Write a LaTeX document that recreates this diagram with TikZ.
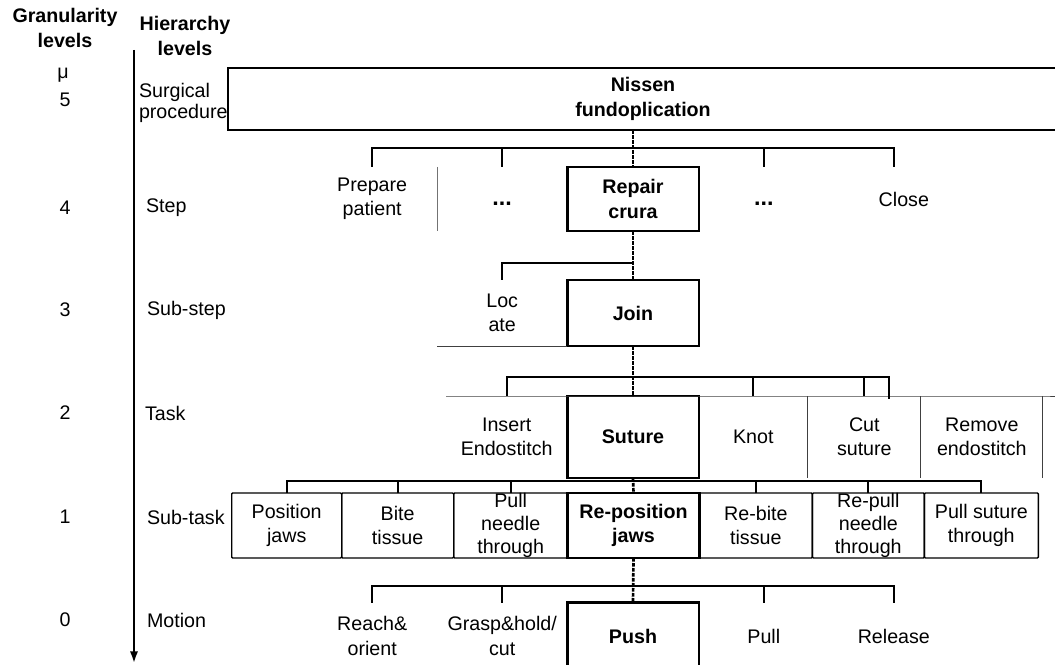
\documentclass[tikz,border=0pt]{standalone}
\usepackage{fontspec}
\setmainfont{Liberation Sans}
\usetikzlibrary{arrows.meta,positioning}
\tikzset{
  lbl/.style={font=\fontsize{11.8}{14.6}\selectfont, align=center, inner sep=0pt, outer sep=0pt},
  boldlbl/.style={lbl, font=\fontsize{11.8}{14.6}\selectfont\bfseries},
  keybox/.style={boldlbl, draw, line width=1.6pt, minimum width=79pt},
  cell/.style={lbl, minimum width=78pt},
  subbox/.style={lbl, draw, line width=0.8pt, rounded corners=0.6pt, minimum height=39pt},
  tight/.style={font=\fontsize{11.8}{13.6}\selectfont},
  bracket/.style={line width=1.2pt},
  link/.style={line width=1.6pt, dash pattern=on 2.2pt off 0.8pt},
  rule/.style={line width=0.5pt, black!75},
  lvl/.style={lbl, anchor=west, align=left}
}
\newcommand{\moredots}{\raisebox{-4pt}[0pt][0pt]{\fontsize{14}{14}\selectfont\bfseries ...}}
\begin{document}
\begin{tikzpicture}[x=0.6pt, y=-0.6pt]
\useasboundingbox (0,0) rectangle (1055,665);

% left columns
\node (gran) [boldlbl] at (65,28) {Granularity\\levels};
\node (hier) [boldlbl] at (185,36) {Hierarchy\\levels};
\coordinate (ax0) at (134,50);
\coordinate (ax1) at (134,663);
\draw [line width=1.2pt, -{Latex[length=7pt,width=5pt]}] (ax0) -- (ax1);
\node (mu) [lbl] at (63,75) {μ};
\node (g5) [lbl] at (65,100) {5};
\node (g4) [lbl] at (65,208) {4};
\node (g3) [lbl] at (65,310) {3};
\node (g2) [lbl] at (65,413) {2};
\node (g1) [lbl] at (65,517) {1};
\node (g0) [lbl] at (65,620) {0};
\node (h5) [lvl, font=\fontsize{11.8}{12.8}\selectfont] at (139,103) {Surgical\\procedure};
\node (h4) [lvl] at (146,208) {Step};
\node (h3) [lvl] at (147,310) {Sub-step};
\node (h2) [lvl] at (145,413) {Task};
\node (h1) [lvl] at (147,517) {Sub-task};
\node (h0) [lvl] at (147,620) {Motion};

% level 5
\node (nissen) [boldlbl, draw, line width=1.3pt, minimum width=498pt, minimum height=37.2pt] at (643,99) {Nissen\\fundoplication};

% level 4
\node (repair) [keybox, minimum height=38.4pt] at (633,199) {Repair\\crura};
\node (dotsa) [cell, minimum height=38.4pt, left=0pt of repair] {\moredots};
\node (prep) [cell, minimum height=38.4pt, left=0pt of dotsa] {Prepare\\patient};
\node (dotsb) [cell, minimum height=38.4pt, right=0pt of repair] {\moredots};
\node (close) [cell, minimum height=38.4pt, right=0pt of dotsb] {\hspace*{12pt}Close};
\draw [rule, black!55] (prep.north east) -- (prep.south east);

% level 3
\node (join) [keybox, minimum height=39.6pt] at (633,313) {Join};
\node (loc) [cell, minimum height=39.6pt, left=0pt of join] {Loc\\ate};
\draw [rule] (loc.south west) -- (join.south west);

% level 2
\node (suture) [keybox, minimum height=49.2pt] at (633,437) {Suture};
\node (ins) [lbl, minimum width=72.6pt, minimum height=49.2pt, left=0pt of suture] {Insert\\Endostitch};
\node (knot) [lbl, minimum width=65.4pt, minimum height=49.2pt, right=0pt of suture] {Knot};
\node (cut) [lbl, minimum width=67.8pt, minimum height=49.2pt, right=0pt of knot] {Cut\\suture};
\node (rem) [lbl, minimum width=73.2pt, minimum height=49.2pt, right=0pt of cut] {Remove\\endostitch};
\draw [rule] (ins.north west) -- (rem.north east) -- ++(15,0);
\draw [rule] (knot.north east) -- (knot.south east);
\draw [rule] (cut.north east) -- (cut.south east);
\draw [rule] (rem.north east) -- (rem.south east);

% level 1
\node (sta) [keybox, minimum height=39pt] at (633.5,525.5) {Re-position\\jaws};
\node (stc) [subbox, minimum width=68.4pt, left=0pt of sta, tight] {Pull\\needle\\through};
\node (stb) [subbox, minimum width=67.2pt, left=0pt of stc] {Bite\\tissue};
\node (stp) [subbox, minimum width=66pt, left=0pt of stb] {Position\\jaws};
\node (std) [subbox, minimum width=67.8pt, right=0pt of sta] {Re-bite\\tissue};
\node (ste) [subbox, minimum width=67.2pt, right=0pt of std, tight] {Re-pull\\needle\\through};
\node (stf) [subbox, minimum width=68.4pt, right=0pt of ste] {Pull suture\\through};
\draw [line width=1.6pt] (sta.north west) rectangle (sta.south east);

% level 0
\node (push) [keybox, minimum height=40pt] at (633,636) {Push};
\node (grasp) [cell, minimum height=40pt, left=0pt of push] {Grasp\&hold/\\cut};
\node (reach) [cell, minimum height=40pt, left=0pt of grasp] {Reach\&\\orient};
\node (pull) [cell, minimum height=40pt, right=0pt of push] {Pull};
\node (release) [cell, minimum height=40pt, right=0pt of pull] {Release};

% brackets
\coordinate (b4) at (633,148);
\coordinate (b3) at (633,263);
\coordinate (b2) at (633,377);
\coordinate (b1) at (633,481);
\coordinate (b0) at (633,586);
\coordinate (rm) at (889,399);

\draw [bracket] (prep.north) |- (b4) -| (close.north);
\draw [bracket] (dotsa.north) -- (dotsa.north |- b4);
\draw [bracket] (dotsb.north) -- (dotsb.north |- b4);

\draw [bracket] (loc.north) |- (b3);

\draw [bracket] (ins.north) |- (b2) -| (rm);
\draw [bracket] (knot.north) -- (knot.north |- b2);
\draw [bracket] (cut.north) -- (cut.north |- b2);

\draw [bracket] (stp.north) |- (b1) -| (stf.north);
\draw [bracket] (stb.north) -- (stb.north |- b1);
\draw [bracket] (stc.north) -- (stc.north |- b1);
\draw [bracket] (std.north) -- (std.north |- b1);
\draw [bracket] (ste.north) -- (ste.north |- b1);

\draw [bracket] (reach.north) |- (b0) -| (release.north);
\draw [bracket] (grasp.north) -- (grasp.north |- b0);
\draw [bracket] (pull.north) -- (pull.north |- b0);

% central links
\draw [link] (repair.north |- nissen.south) -- (repair.north);
\draw [link] (repair.south) -- (join.north);
\draw [link] (join.south) -- (suture.north);
\draw [link] (suture.south) -- (sta.north);
\draw [link] (sta.south) -- (push.north);
\end{tikzpicture}
\end{document}
